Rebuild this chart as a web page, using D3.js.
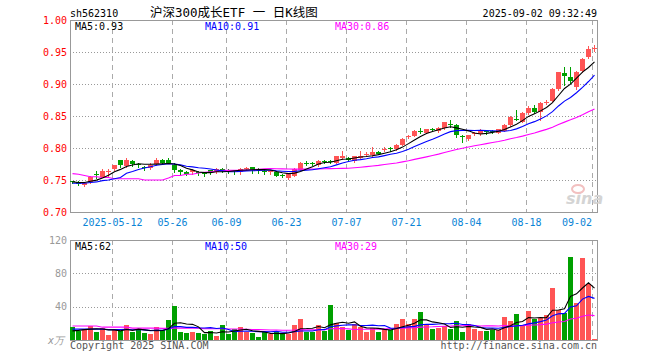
<!DOCTYPE html>
<html>
<head>
<meta charset="utf-8">
<script src="https://cdn.jsdelivr.net/npm/d3@7/dist/d3.min.js"></script>
<style>
  body { margin: 0; background: #fff; }
  svg { display: block; }
  text { font-family: "DejaVu Sans Mono", monospace; font-size: 10px; }
</style>
</head>
<body>
<div id="chart"></div>
<script>
// trading days shown on the chart
const dates = [
  "2025-04-28","2025-04-29","2025-04-30","2025-05-06","2025-05-07","2025-05-08","2025-05-09",
  "2025-05-12","2025-05-13","2025-05-14","2025-05-15","2025-05-16",
  "2025-05-19","2025-05-20","2025-05-21","2025-05-22","2025-05-23",
  "2025-05-26","2025-05-27","2025-05-28","2025-05-29","2025-05-30",
  "2025-06-03","2025-06-04","2025-06-05","2025-06-06",
  "2025-06-09","2025-06-10","2025-06-11","2025-06-12","2025-06-13",
  "2025-06-16","2025-06-17","2025-06-18","2025-06-19","2025-06-20",
  "2025-06-23","2025-06-24","2025-06-25","2025-06-26","2025-06-27",
  "2025-06-30","2025-07-01","2025-07-02","2025-07-03","2025-07-04",
  "2025-07-07","2025-07-08","2025-07-09","2025-07-10","2025-07-11",
  "2025-07-14","2025-07-15","2025-07-16","2025-07-17","2025-07-18",
  "2025-07-21","2025-07-22","2025-07-23","2025-07-24","2025-07-25",
  "2025-07-28","2025-07-29","2025-07-30","2025-07-31","2025-08-01",
  "2025-08-04","2025-08-05","2025-08-06","2025-08-07","2025-08-08",
  "2025-08-11","2025-08-12","2025-08-13","2025-08-14","2025-08-15",
  "2025-08-18","2025-08-19","2025-08-20","2025-08-21","2025-08-22",
  "2025-08-25","2025-08-26","2025-08-27","2025-08-28","2025-08-29",
  "2025-09-01","2025-09-02"
];

const open = [
  0.748,0.747,0.742,0.747,0.759,0.755,0.762,
  0.767,0.781,0.772,0.780,0.775,
  0.771,0.768,0.775,0.782,0.781,
  0.774,0.766,0.763,0.762,0.762,
  0.761,0.765,0.762,0.767,
  0.765,0.765,0.763,0.768,0.770,
  0.767,0.764,0.763,0.763,0.758,
  0.753,0.757,0.766,0.777,0.776,
  0.773,0.780,0.780,0.777,0.785,
  0.785,0.779,0.785,0.789,0.789,
  0.794,0.797,0.800,0.798,0.805,
  0.817,0.819,0.827,0.824,0.830,
  0.826,0.831,0.837,0.836,0.819,
  0.814,0.822,0.822,0.826,0.827,
  0.824,0.827,0.836,0.846,0.841,
  0.855,0.863,0.857,0.871,0.874,
  0.892,0.917,0.911,0.896,0.920,
  0.942,0.954
];
const high = [
  0.749,0.748,0.747,0.756,0.764,0.767,0.767,
  0.774,0.782,0.785,0.781,0.777,
  0.772,0.776,0.785,0.783,0.784,
  0.776,0.767,0.764,0.767,0.764,
  0.763,0.766,0.768,0.768,
  0.767,0.766,0.769,0.770,0.771,
  0.768,0.765,0.765,0.764,0.760,
  0.760,0.768,0.778,0.779,0.778,
  0.781,0.782,0.782,0.788,0.796,
  0.786,0.788,0.796,0.793,0.801,
  0.795,0.801,0.802,0.806,0.815,
  0.820,0.828,0.832,0.830,0.832,
  0.833,0.841,0.844,0.837,0.821,
  0.821,0.825,0.829,0.828,0.828,
  0.830,0.837,0.850,0.859,0.856,
  0.866,0.867,0.872,0.875,0.893,
  0.919,0.926,0.927,0.920,0.940,
  0.959,0.961
];
const low = [
  0.745,0.742,0.741,0.746,0.753,0.754,0.757,
  0.766,0.771,0.771,0.772,0.771,
  0.765,0.767,0.774,0.775,0.776,
  0.762,0.760,0.758,0.760,0.758,
  0.757,0.760,0.761,0.762,
  0.761,0.760,0.760,0.766,0.761,
  0.761,0.760,0.760,0.756,0.755,
  0.752,0.756,0.765,0.773,0.773,
  0.772,0.776,0.777,0.776,0.783,
  0.780,0.778,0.784,0.787,0.788,
  0.790,0.795,0.795,0.797,0.804,
  0.815,0.818,0.824,0.823,0.827,
  0.825,0.830,0.833,0.817,0.810,
  0.813,0.820,0.821,0.822,0.823,
  0.823,0.826,0.835,0.843,0.840,
  0.853,0.855,0.844,0.868,0.873,
  0.891,0.898,0.901,0.892,0.918,
  0.940,0.952
];
const close = [
  0.747,0.743,0.746,0.755,0.758,0.764,0.764,
  0.773,0.774,0.781,0.775,0.774,
  0.769,0.774,0.782,0.777,0.777,
  0.765,0.762,0.760,0.765,0.761,
  0.760,0.762,0.767,0.764,
  0.764,0.764,0.767,0.769,0.766,
  0.766,0.763,0.764,0.757,0.757,
  0.759,0.767,0.777,0.776,0.775,
  0.780,0.779,0.779,0.787,0.787,
  0.782,0.787,0.787,0.790,0.793,
  0.791,0.798,0.799,0.805,0.814,
  0.818,0.827,0.826,0.829,0.829,
  0.832,0.840,0.836,0.820,0.818,
  0.820,0.823,0.828,0.825,0.826,
  0.829,0.836,0.849,0.845,0.855,
  0.862,0.857,0.871,0.872,0.892,
  0.918,0.912,0.905,0.919,0.939,
  0.954,0.956
];
// volume, 万手
const volume = [
  16,10.8,13.2,16.8,10,14.8,6,
  13.2,10.8,18,10,13.2,
  8.8,7.2,16,12,24,
  41.2,10,8.8,10,8.8,
  6.8,10.8,5.2,18,
  7.2,13.2,16,10,8.8,
  4,9.2,7.6,9.2,8,
  7.6,18,25,10,10,
  18,10.8,42,20,16,
  12,18.8,16,10,15,
  10,13,12,19,25,
  19,25,33.6,18,13,
  14,17,13,22.8,10,
  19,13,11,11,12,
  12,27.6,22.8,31,18,
  34.8,25,26,30,62.8,
  36,33,100,45,98,
  67,1.5
];

// moving-average values before a full window exists
const ma5Head = [0.747,0.746,0.746,0.748];
const ma10Head = [0.745,0.745,0.745,0.746,0.747,0.749,0.750,0.752,0.754];
const ma30Head = [
  0.760,0.759,0.757,0.755,0.755,0.754,0.754,0.752,0.752,0.752,
  0.752,0.752,0.750,0.750,0.750,0.750,0.753,0.757,0.757,0.759,
  0.759,0.761,0.762,0.763,0.764,0.765,0.765,0.765,0.765
];
const volMa5Head = [11,11.5,12.5,13];
const volMa10Head = [13,13,13,13,13,13,12.5,12.5,12.5];
const volMa30Head = [
  16.8,16.8,16.8,16.8,16.8,15.4,15.4,15.4,15.4,15.4,
  14.2,14.2,14.2,14.2,14.2,14,14,14.5,14.2,14.2,
  14.2,14.2,13.5,13.5,13.5,13.5,13.2,13.2,13.2
];

const priceTicks = [1.00,0.95,0.90,0.85,0.80,0.75,0.70];
const volTicks = [120,80,40];
const dateTicks = ["2025-05-12","2025-05-26","2025-06-09","2025-06-23","2025-07-07",
                   "2025-07-21","2025-08-04","2025-08-18","2025-09-02"];

const RED = "#ff5555", GREEN = "#00a000", GRID = "#aaa";

const W = 660, H = 360;
const left = 70, right = 597;
const pTop = 20, pBottom = 212;
const vTop = 240, vBottom = 340;

const svg = d3.select("#chart")
  .append("svg")
  .attr("width", W)
  .attr("height", H);

const x = d3.scaleBand().domain(dates).range([left - 1, right]).padding(0);
const yP = d3.scaleLinear().domain([0.70, 1.00]).range([pBottom, pTop]);
const yV = d3.scaleLinear().domain([0, 120]).range([vBottom, vTop]);
const cx = d => x(d) + 3.5;

function movingAvg(values, n, head) {
  return values.map((v, i) => i < n - 1 ? head[i] : d3.mean(values.slice(i - n + 1, i + 1)));
}

const rows = dates.map((d, i) => ({
  date: d, o: open[i], h: high[i], l: low[i], c: close[i], v: volume[i]
}));
const up = d => d.c >= d.o;

svg.append("defs").append("clipPath").attr("id", "clipP")
  .append("rect").attr("x", left).attr("y", pTop).attr("width", right - left).attr("height", pBottom - pTop);
svg.select("defs").append("clipPath").attr("id", "clipV")
  .append("rect").attr("x", left).attr("y", vTop).attr("width", right - left).attr("height", vBottom - vTop);

// header
svg.append("text").attr("x", 70).attr("y", 17).text("sh562310");
svg.append("text").attr("x", 150).attr("y", 17)
  .style("font-family", '"DejaVu Sans Mono", "Noto Sans CJK SC", sans-serif')
  .style("font-size", "12.5px")
  .text("沪深300成长ETF 一 日K线图");
svg.append("text").attr("x", right).attr("y", 17).attr("text-anchor", "end")
  .text("2025-09-02 09:32:49");

// grid + frames for both panels
function panelGrid(yTop, yBot, yScale, ticks) {
  svg.append("g").selectAll("line")
    .data(ticks.filter(t => Math.round(yScale(t)) > yTop && Math.round(yScale(t)) < yBot))
    .join("line")
    .attr("x1", left).attr("x2", right)
    .attr("y1", t => Math.round(yScale(t)) + 0.5)
    .attr("y2", t => Math.round(yScale(t)) + 0.5)
    .attr("stroke", "#999")
    .attr("stroke-dasharray", "1,2");

  svg.append("g").selectAll("line")
    .data(dateTicks)
    .join("line")
    .attr("x1", d => x(d) + 1.5).attr("x2", d => x(d) + 1.5)
    .attr("y1", yTop).attr("y2", yBot)
    .attr("stroke", GRID)
    .attr("stroke-dasharray", "5,4");

  svg.append("rect")
    .attr("x", left + 0.5).attr("y", yTop + 0.5)
    .attr("width", right - left).attr("height", yBot - yTop)
    .attr("fill", "none").attr("stroke", "#999");
}

panelGrid(pTop, pBottom, yP, priceTicks);
panelGrid(vTop, vBottom, yV, volTicks.concat([0]));

// price axis labels
svg.append("g").selectAll("text")
  .data(priceTicks)
  .join("text")
  .attr("x", 67).attr("y", d => yP(d))
  .attr("dy", "0.35em")
  .attr("text-anchor", "end")
  .attr("fill", "#f00")
  .text(d3.format(".2f"));

// date labels
svg.append("g").selectAll("text")
  .data(dateTicks)
  .join("text")
  .attr("x", (d, i) => {
    const w = (i === 0 ? 10 : 5) * 6;
    return Math.min(x(d) + 1.5, right - 5 - w / 2);
  })
  .attr("y", 226)
  .attr("text-anchor", "middle")
  .attr("fill", "#0a84d6")
  .text((d, i) => i === 0 ? d : d.slice(5));

// volume axis labels
svg.append("g").selectAll("text")
  .data(volTicks)
  .join("text")
  .attr("x", 67).attr("y", d => yV(d))
  .attr("dy", "0.35em")
  .attr("text-anchor", "end")
  .attr("fill", "#999")
  .text(d => d);
svg.append("text").attr("x", 64).attr("y", 344).attr("text-anchor", "end")
  .attr("fill", "#999").style("font-style", "italic").text("x万");

// watermark
svg.append("text").attr("x", 566).attr("y", 204)
  .style("font-family", "Verdana, 'DejaVu Sans', sans-serif")
  .style("font-size", "16px").style("font-weight", "bold").style("font-style", "italic")
  .attr("fill", "#d4d4d4").text("sina");
svg.append("ellipse").attr("cx", 578).attr("cy", 189).attr("rx", 6).attr("ry", 4)
  .attr("fill", "none").attr("stroke", "#f2c0c0").attr("stroke-width", 2);

// candles
const candles = svg.append("g").attr("shape-rendering", "crispEdges");
candles.selectAll("line")
  .data(rows)
  .join("line")
  .attr("x1", d => cx(d.date)).attr("x2", d => cx(d.date))
  .attr("y1", d => Math.round(yP(d.h)))
  .attr("y2", d => Math.round(yP(d.l)) + 1)
  .attr("stroke", d => up(d) ? RED : GREEN);
candles.selectAll("rect")
  .data(rows)
  .join("rect")
  .attr("x", d => x(d.date) + 1)
  .attr("width", 5)
  .attr("y", d => Math.round(yP(Math.max(d.o, d.c))))
  .attr("height", d => Math.max(1, Math.round(yP(Math.min(d.o, d.c))) - Math.round(yP(Math.max(d.o, d.c)))))
  .attr("fill", d => up(d) ? RED : GREEN);

// volume bars
svg.append("g").attr("shape-rendering", "crispEdges")
  .selectAll("rect")
  .data(rows)
  .join("rect")
  .attr("x", d => x(d.date) + 1)
  .attr("width", 5)
  .attr("y", d => Math.round(yV(d.v)))
  .attr("height", d => vBottom - Math.round(yV(d.v)))
  .attr("fill", d => up(d) ? RED : GREEN);

// moving averages
const ma = {
  p5: movingAvg(close, 5, ma5Head),
  p10: movingAvg(close, 10, ma10Head),
  p30: movingAvg(close, 30, ma30Head),
  v5: movingAvg(volume, 5, volMa5Head),
  v10: movingAvg(volume, 10, volMa10Head),
  v30: movingAvg(volume, 30, volMa30Head)
};

function maLine(values, yScale, colour, clip) {
  const line = d3.line()
    .x((d, i) => cx(dates[i]))
    .y(d => yScale(d));
  svg.append("path")
    .attr("d", line(values))
    .attr("fill", "none")
    .attr("stroke", colour)
    .attr("stroke-width", 1.1)
    .attr("clip-path", `url(#${clip})`);
}

maLine(ma.p30, yP, "#ff00ff", "clipP");
maLine(ma.p10, yP, "#0000ff", "clipP");
maLine(ma.p5, yP, "#000", "clipP");
maLine(ma.v30, yV, "#ff00ff", "clipV");
maLine(ma.v10, yV, "#0000ff", "clipV");
maLine(ma.v5, yV, "#000", "clipV");

// legends with last MA values
const last = a => a[a.length - 1];
const legend = [
  { x: 75, y: 30, t: "MA5:" + d3.format(".2f")(last(ma.p5)), c: "#000" },
  { x: 205, y: 30, t: "MA10:" + d3.format(".2f")(last(ma.p10)), c: "#0000ff" },
  { x: 335, y: 30, t: "MA30:" + d3.format(".2f")(last(ma.p30)), c: "#ff00ff" },
  { x: 75, y: 250, t: "MA5:" + Math.round(last(ma.v5)), c: "#000" },
  { x: 205, y: 250, t: "MA10:" + Math.round(last(ma.v10)), c: "#0000ff" },
  { x: 335, y: 250, t: "MA30:" + Math.round(last(ma.v30)), c: "#ff00ff" }
];
svg.append("g").selectAll("text")
  .data(legend)
  .join("text")
  .attr("x", d => d.x).attr("y", d => d.y)
  .attr("fill", d => d.c)
  .text(d => d.t);

// footer
svg.append("text").attr("x", 70).attr("y", 349).attr("fill", "#555")
  .text("Copyright 2025 SINA.COM");
svg.append("text").attr("x", right).attr("y", 349).attr("text-anchor", "end").attr("fill", "#555")
  .text("http://finance.sina.com.cn");
</script>
</body>
</html>
